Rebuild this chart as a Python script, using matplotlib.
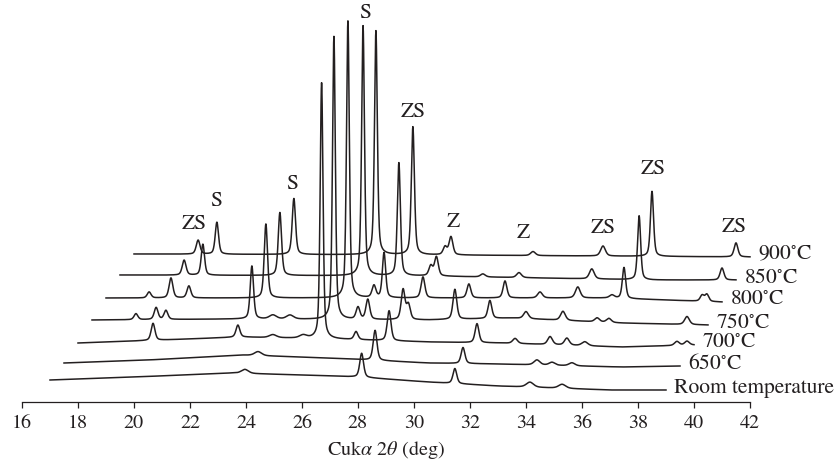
import numpy as np
import matplotlib
matplotlib.use("Agg")
import matplotlib.pyplot as plt

plt.rcParams['font.family'] = ['STIXGeneral', 'DejaVu Serif']
plt.rcParams['mathtext.fontset'] = 'stix'

# samples, bottom to top
labels = ["Room temperature", "650$^{\\circ}$C", "700$^{\\circ}$C", "750$^{\\circ}$C",
          "800$^{\\circ}$C", "850$^{\\circ}$C", "900$^{\\circ}$C"]
theta_start = 17.0
theta_end = 39.0
shift_x = 0.5          # each pattern shifted right by 0.5 deg
offsets = [22, 39, 59, 82, 104, 127, 148]

# background knots (2theta, relative intensity)
bg_rt = [(17, 0), (20, 3), (23.5, 7), (26, 5), (28, 3), (30.5, -2), (33, -6), (37, -10), (39, -10)]
bg_650 = [(17, 0), (20, 3), (23.3, 8), (26.5, 5), (30, 0), (32.5, -1), (36.9, -4), (39, -3)]
bg_700 = [(17, 0), (20, 3), (22.8, 6), (26, 4), (29.6, 1), (32.1, 0), (36.4, -4), (39, -2)]
bg_750 = [(17, 0), (22.3, 1), (29, 0), (32, 2), (35.9, -3), (39, -5)]
bg_800 = [(17, 0), (30, 0), (35, 0), (39, -4)]
bg_850 = [(17, 0), (28, -1), (36, -5), (39, -5)]
bg_900 = [(17, 0), (28, -1), (39, -3)]

# peaks: (2theta, height, fwhm)
pk_rt = [(23.96, 4, 0.3), (28.13, 24, 0.16), (31.46, 15, 0.16), (34.14, 5, 0.3), (35.29, 4, 0.3)]
pk_650 = [(23.93, 4, 0.3), (28.11, 30, 0.16), (31.25, 16, 0.16), (33.89, 5, 0.25),
          (34.43, 3, 0.25), (35.14, 3, 0.25)]
pk_700 = [(19.68, 17, 0.16), (22.71, 12, 0.16), (23.96, 3, 0.3), (25.04, 3, 0.3), (25.70, 256, 0.12),
          (26.93, 8, 0.16), (28.11, 30, 0.16), (31.25, 19, 0.16), (32.61, 5, 0.2), (33.86, 8, 0.2),
          (34.46, 7, 0.2), (35.1, 4, 0.25), (38.39, 4, 0.2), (38.75, 4, 0.2)]
pk_750 = [(18.57, 6, 0.16), (19.29, 12, 0.16), (19.64, 9, 0.16), (22.71, 53, 0.14), (23.46, 4, 0.3),
          (24.07, 4, 0.3), (25.64, 283, 0.12), (26.5, 12, 0.16), (26.85, 20, 0.16), (28.11, 30, 0.16),
          (28.3, 15, 0.16), (29.96, 30, 0.16), (31.21, 18, 0.16), (32.5, 7, 0.2), (33.82, 9, 0.2),
          (35.04, 4, 0.2), (35.46, 4, 0.2), (38.25, 8, 0.2)]
pk_800 = [(18.54, 6, 0.16), (19.32, 20, 0.16), (19.96, 12, 0.16), (22.71, 74, 0.14), (25.64, 277, 0.12),
          (26.57, 12, 0.16), (26.93, 45, 0.14), (28.32, 21, 0.16), (29.96, 14, 0.16), (31.25, 17, 0.16),
          (32.5, 6, 0.2), (33.85, 11, 0.2), (35.07, 3, 0.2), (35.5, 31, 0.14), (38.29, 6, 0.16),
          (38.46, 7, 0.16)]
pk_850 = [(19.29, 15, 0.16), (19.96, 31, 0.14), (22.71, 63, 0.14), (25.68, 250, 0.12), (26.96, 113, 0.13),
          (28.1, 10, 0.16), (28.3, 19, 0.16), (29.96, 3, 0.2), (31.25, 5, 0.2), (33.85, 10, 0.2),
          (35.54, 64, 0.13), (38.5, 12, 0.16)]
pk_900 = [(19.29, 14, 0.16), (19.96, 32, 0.14), (22.71, 56, 0.14), (25.64, 224, 0.12), (26.96, 128, 0.13),
          (28.11, 8, 0.16), (28.32, 18, 0.16), (31.25, 4, 0.2), (33.75, 10, 0.2), (35.5, 65, 0.13),
          (38.5, 14, 0.16)]

backgrounds = [bg_rt, bg_650, bg_700, bg_750, bg_800, bg_850, bg_900]
peaks = [pk_rt, pk_650, pk_700, pk_750, pk_800, pk_850, pk_900]

# phase labels: (text, 2theta on axis, height)
phase_text = ["ZS", "S", "S", "S", "ZS", "Z", "Z", "ZS", "ZS", "ZS"]
phase_x = [22.14, 22.93, 25.64, 28.25, 29.96, 31.39, 33.89, 36.75, 38.54, 41.43]
phase_y = [178, 201, 218, 389, 290, 180, 169, 174, 233, 175]


def pattern(tt, bg, pk):
    bx = [b[0] for b in bg]
    by = [b[1] for b in bg]
    y = np.interp(tt, bx, by)
    for pos, h, w in pk:
        hw = w / 2.0
        lor = 1.0 / (1.0 + ((tt - pos) / hw) ** 2)
        gau = np.exp(-np.log(2) * ((tt - pos) / hw) ** 2)
        y = y + h * (0.45 * lor + 0.55 * gau)
    return y


fig = plt.figure(figsize=(8.36, 4.69), dpi=100)
ax = fig.add_axes([22 / 836, 1 - 402 / 469, 728 / 836, 402 / 469])

tt = np.arange(theta_start, theta_end + 0.005, 0.01)
for i in range(len(labels)):
    y = pattern(tt, backgrounds[i], peaks[i]) + offsets[i]
    x = tt + shift_x * i
    ax.plot(x, y, color='#231f20', lw=1.1, clip_on=False)
    ax.text(x[-1] + 0.3, y[-1] + 2, labels[i], fontsize=15.5, va='center', ha='left',
            color='#231f20', clip_on=False)

for t, px, py in zip(phase_text, phase_x, phase_y):
    ax.text(px, py, t, fontsize=15.5, ha='center', va='center', color='#231f20')

ax.set_xlim(16, 42)
ax.set_ylim(0, 402)
ax.set_xticks(np.arange(16, 43, 2))
for s in ['top', 'left', 'right']:
    ax.spines[s].set_visible(False)
ax.spines['bottom'].set_linewidth(0.9)
ax.spines['bottom'].set_color('#231f20')
ax.set_yticks([])
ax.tick_params(axis='x', direction='out', length=4, width=0.9, colors='#231f20',
               labelsize=14.5, pad=5)
ax.set_xlabel("Cuk$\\alpha$ 2$\\theta$ (deg)", fontsize=14.5, color='#231f20', labelpad=5)
ax.patch.set_alpha(0)

fig.savefig("out.png", dpi=100)
